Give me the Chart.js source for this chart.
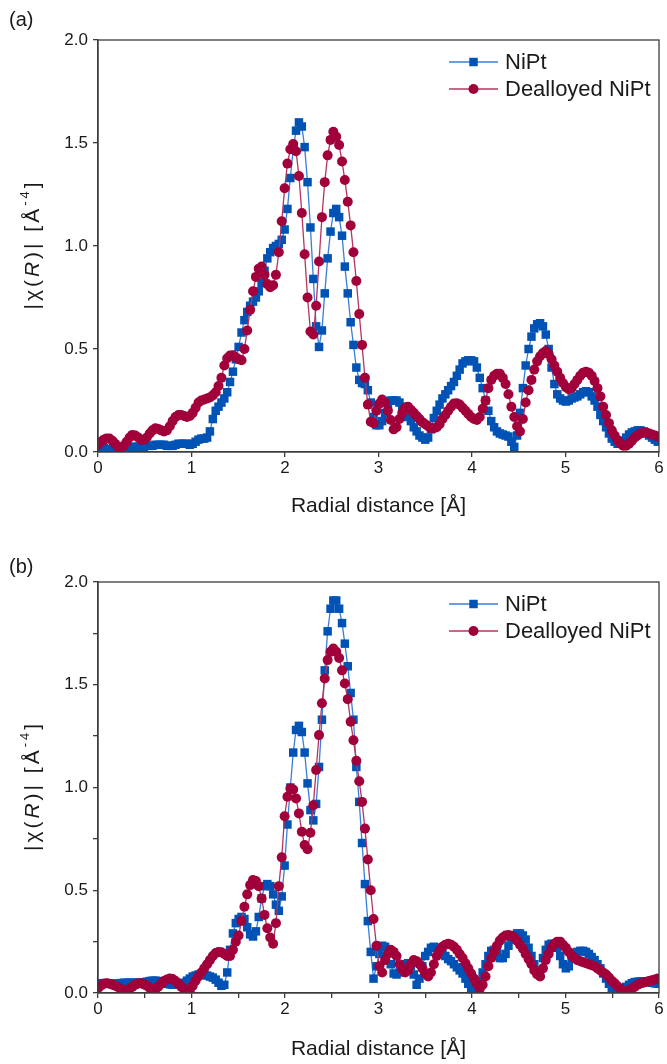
<!DOCTYPE html>
<html>
<head>
<meta charset="utf-8">
<script src="https://cdn.jsdelivr.net/npm/chart.js@4.4.1/dist/chart.umd.min.js"></script>
<style>
  body { margin: 0; background: #fff; }
  canvas { display: block; }
</style>
</head>
<body>
<canvas id="chartA" width="667" height="530"></canvas>
<canvas id="chartB" width="667" height="534"></canvas>
<script>
// R grid of the Fourier transform (Å)
const radialDistance = [
  0.000, 0.031, 0.061, 0.092, 0.123, 0.154, 0.184, 0.215, 0.246, 0.276,
  0.307, 0.338, 0.368, 0.399, 0.430, 0.461, 0.491, 0.522, 0.553, 0.583,
  0.614, 0.645, 0.675, 0.706, 0.737, 0.768, 0.798, 0.829, 0.860, 0.890,
  0.921, 0.952, 0.982, 1.013, 1.044, 1.075, 1.105, 1.136, 1.167, 1.197,
  1.228, 1.259, 1.289, 1.320, 1.351, 1.382, 1.412, 1.443, 1.474, 1.504,
  1.535, 1.566, 1.596, 1.627, 1.658, 1.689, 1.719, 1.750, 1.781, 1.811,
  1.842, 1.873, 1.903, 1.934, 1.965, 1.996, 2.026, 2.057, 2.088, 2.118,
  2.149, 2.180, 2.210, 2.241, 2.272, 2.303, 2.333, 2.364, 2.395, 2.425,
  2.456, 2.487, 2.517, 2.548, 2.579, 2.610, 2.640, 2.671, 2.702, 2.732,
  2.763, 2.794, 2.824, 2.855, 2.886, 2.917, 2.947, 2.978, 3.009, 3.039,
  3.070, 3.101, 3.131, 3.162, 3.193, 3.224, 3.254, 3.285, 3.316, 3.346,
  3.377, 3.408, 3.438, 3.469, 3.500, 3.531, 3.561, 3.592, 3.623, 3.653,
  3.684, 3.715, 3.745, 3.776, 3.807, 3.838, 3.868, 3.899, 3.930, 3.960,
  3.991, 4.022, 4.052, 4.083, 4.114, 4.145, 4.175, 4.206, 4.237, 4.267,
  4.298, 4.329, 4.359, 4.390, 4.421, 4.452, 4.482, 4.513, 4.544, 4.574,
  4.605, 4.636, 4.666, 4.697, 4.728, 4.759, 4.789, 4.820, 4.851, 4.881,
  4.912, 4.943, 4.973, 5.004, 5.035, 5.066, 5.096, 5.127, 5.158, 5.188,
  5.219, 5.250, 5.280, 5.311, 5.342, 5.373, 5.403, 5.434, 5.465, 5.495,
  5.526, 5.557, 5.587, 5.618, 5.649, 5.680, 5.710, 5.741, 5.772, 5.802,
  5.833, 5.864, 5.894, 5.925, 5.956, 5.987
];

// panel (a)
const niptA = [
  0.015, 0.02, 0.02, 0.015, 0.01, 0.01, 0.015, 0.02, 0.02, 0.02,
  0.02, 0.02, 0.025, 0.025, 0.025, 0.025, 0.025, 0.03, 0.03, 0.03,
  0.035, 0.035, 0.035, 0.035, 0.03, 0.03, 0.03, 0.035, 0.04, 0.04,
  0.04, 0.04, 0.035, 0.04, 0.05, 0.06, 0.065, 0.065, 0.07, 0.10,
  0.16, 0.20, 0.22, 0.24, 0.26, 0.29, 0.34, 0.39, 0.45, 0.51,
  0.58, 0.64, 0.68, 0.71, 0.73, 0.75, 0.78, 0.82, 0.88, 0.94,
  0.97, 0.99, 1.00, 1.01, 1.03, 1.08, 1.18, 1.33, 1.47, 1.56,
  1.60, 1.58, 1.48, 1.31, 1.09, 0.84, 0.61, 0.51, 0.59, 0.77,
  0.94, 1.07, 1.16, 1.18, 1.14, 1.05, 0.90, 0.77, 0.63, 0.52,
  0.41, 0.35, 0.335, 0.33, 0.30, 0.24, 0.17, 0.13, 0.13, 0.15,
  0.19, 0.23, 0.25, 0.25, 0.25, 0.24, 0.22, 0.20, 0.17, 0.15,
  0.12, 0.10, 0.08, 0.07, 0.06, 0.07, 0.11, 0.165, 0.20, 0.23,
  0.26, 0.28, 0.30, 0.32, 0.34, 0.37, 0.40, 0.43, 0.44, 0.445,
  0.445, 0.44, 0.41, 0.36, 0.31, 0.25, 0.20, 0.15, 0.12, 0.10,
  0.09, 0.085, 0.08, 0.075, 0.05, 0.025, 0.08, 0.19, 0.31, 0.42,
  0.50, 0.56, 0.60, 0.62, 0.625, 0.61, 0.57, 0.50, 0.41, 0.33,
  0.28, 0.26, 0.25, 0.245, 0.25, 0.26, 0.265, 0.27, 0.28, 0.29,
  0.295, 0.29, 0.27, 0.25, 0.22, 0.18, 0.15, 0.12, 0.09, 0.065,
  0.05, 0.04, 0.045, 0.055, 0.07, 0.085, 0.095, 0.10, 0.105, 0.105,
  0.10, 0.09, 0.08, 0.07, 0.06, 0.05
];
const dealloyedA = [
  0.035, 0.05, 0.06, 0.066, 0.065, 0.055, 0.04, 0.025, 0.022, 0.03,
  0.05, 0.07, 0.083, 0.08, 0.07, 0.06, 0.06, 0.07, 0.09, 0.105,
  0.115, 0.112, 0.105, 0.10, 0.105, 0.125, 0.15, 0.17, 0.18, 0.18,
  0.175, 0.17, 0.175, 0.19, 0.215, 0.24, 0.25, 0.255, 0.26, 0.265,
  0.275, 0.29, 0.32, 0.36, 0.42, 0.455, 0.468, 0.47, 0.46, 0.45,
  0.445, 0.50, 0.59, 0.69, 0.78, 0.85, 0.89, 0.90, 0.86, 0.815,
  0.80, 0.81, 0.86, 0.97, 1.12, 1.28, 1.40, 1.47, 1.495, 1.46,
  1.34, 1.16, 0.96, 0.75, 0.585, 0.57, 0.71, 0.925, 1.14, 1.31,
  1.44, 1.515, 1.555, 1.53, 1.49, 1.41, 1.32, 1.215, 1.10, 0.97,
  0.83, 0.67, 0.52, 0.36, 0.23, 0.147, 0.14, 0.20, 0.235, 0.255,
  0.24, 0.20, 0.155, 0.11, 0.12, 0.16, 0.19, 0.215, 0.22, 0.205,
  0.19, 0.175, 0.16, 0.145, 0.135, 0.125, 0.115, 0.115, 0.12, 0.135,
  0.16, 0.18, 0.20, 0.22, 0.235, 0.237, 0.23, 0.215, 0.20, 0.185,
  0.17, 0.16, 0.155, 0.17, 0.21, 0.25, 0.31, 0.35, 0.37, 0.38,
  0.38, 0.36, 0.33, 0.28, 0.22, 0.17, 0.125, 0.10, 0.16, 0.24,
  0.30, 0.35, 0.40, 0.44, 0.465, 0.48, 0.49, 0.475, 0.45, 0.42,
  0.39, 0.36, 0.335, 0.315, 0.305, 0.31, 0.33, 0.35, 0.37, 0.385,
  0.39, 0.385, 0.37, 0.345, 0.31, 0.27, 0.22, 0.18, 0.14, 0.105,
  0.08, 0.058, 0.04, 0.03, 0.03, 0.04, 0.055, 0.07, 0.08, 0.09,
  0.095, 0.095, 0.09, 0.085, 0.08, 0.075
];

// panel (b)
const niptB = [
  0.045, 0.047, 0.048, 0.048, 0.047, 0.045, 0.045, 0.046, 0.048, 0.05,
  0.05, 0.05, 0.05, 0.05, 0.05, 0.05, 0.052, 0.055, 0.058, 0.06,
  0.06, 0.058, 0.055, 0.05, 0.045, 0.042, 0.04, 0.04, 0.042, 0.045,
  0.05, 0.06, 0.07, 0.08, 0.085, 0.09, 0.09, 0.088, 0.085, 0.08,
  0.075, 0.065, 0.05, 0.035, 0.04, 0.10, 0.21, 0.29, 0.34, 0.36,
  0.37, 0.36, 0.32, 0.285, 0.275, 0.30, 0.37, 0.46, 0.52, 0.53,
  0.52, 0.48, 0.43, 0.40, 0.47, 0.62, 0.82, 1.00, 1.17, 1.28,
  1.30, 1.27, 1.17, 1.02, 0.89, 0.84, 0.92, 1.10, 1.33, 1.57,
  1.76, 1.87, 1.91, 1.91, 1.87, 1.80, 1.70, 1.59, 1.46, 1.33,
  1.10, 0.93, 0.73, 0.53, 0.35, 0.20, 0.07, 0.13, 0.19, 0.23,
  0.225, 0.20, 0.14, 0.095, 0.09, 0.10, 0.115, 0.14, 0.145, 0.13,
  0.09, 0.04, 0.07, 0.13, 0.18, 0.20, 0.22, 0.225, 0.22, 0.20,
  0.19, 0.18, 0.165, 0.155, 0.14, 0.125, 0.11, 0.095, 0.07, 0.045,
  0.025, 0.02, 0.03, 0.06, 0.10, 0.14, 0.18, 0.205, 0.21, 0.20,
  0.17, 0.17, 0.19, 0.23, 0.26, 0.28, 0.29, 0.29, 0.28, 0.26,
  0.22, 0.18, 0.14, 0.10, 0.09, 0.17, 0.21, 0.235, 0.24, 0.235,
  0.22, 0.18, 0.14, 0.12, 0.13, 0.17, 0.19, 0.20, 0.205, 0.205,
  0.20, 0.19, 0.175, 0.16, 0.14, 0.12, 0.095, 0.07, 0.045, 0.025,
  0.012, 0.005, 0.005, 0.015, 0.03, 0.04, 0.048, 0.053, 0.055, 0.056,
  0.056, 0.055, 0.052, 0.05, 0.047, 0.045
];
const dealloyedB = [
  0.023, 0.035, 0.045, 0.047, 0.045, 0.04, 0.035, 0.028, 0.02, 0.013,
  0.012, 0.02, 0.03, 0.04, 0.046, 0.047, 0.042, 0.035, 0.025, 0.015,
  0.018, 0.03, 0.045, 0.058, 0.066, 0.07, 0.068, 0.058, 0.045, 0.03,
  0.018, 0.008, 0.01, 0.035, 0.06, 0.08, 0.10, 0.12, 0.14, 0.16,
  0.18, 0.195, 0.20, 0.198, 0.19, 0.18, 0.18, 0.21, 0.25, 0.28,
  0.35, 0.42, 0.48, 0.525, 0.55, 0.545, 0.52, 0.46, 0.38, 0.315,
  0.27, 0.24, 0.34, 0.52, 0.66, 0.86, 0.955, 0.995, 0.99, 0.947,
  0.874, 0.785, 0.72, 0.70, 0.78, 0.914, 1.085, 1.255, 1.41, 1.53,
  1.62, 1.66, 1.676, 1.66, 1.63, 1.57, 1.506, 1.43, 1.32, 1.23,
  1.13, 1.03, 0.93, 0.80, 0.65, 0.50, 0.36, 0.23, 0.13, 0.10,
  0.16, 0.19, 0.21, 0.20, 0.18, 0.14, 0.115, 0.10, 0.11, 0.14,
  0.16, 0.155, 0.14, 0.12, 0.095, 0.08, 0.10, 0.14, 0.18, 0.205,
  0.225, 0.235, 0.24, 0.235, 0.225, 0.21, 0.19, 0.17, 0.145, 0.12,
  0.095, 0.07, 0.045, 0.02, 0.04, 0.08, 0.13, 0.17, 0.20, 0.23,
  0.255, 0.27, 0.28, 0.282, 0.278, 0.27, 0.255, 0.235, 0.215, 0.19,
  0.165, 0.14, 0.11, 0.09, 0.08, 0.12, 0.16, 0.19, 0.22, 0.24,
  0.25, 0.25, 0.235, 0.22, 0.20, 0.18, 0.17, 0.16, 0.155, 0.15,
  0.145, 0.14, 0.135, 0.13, 0.12, 0.11, 0.10, 0.09, 0.075, 0.06,
  0.047, 0.033, 0.02, 0.01, 0.006, 0.012, 0.02, 0.03, 0.04, 0.046,
  0.05, 0.055, 0.058, 0.062, 0.066, 0.07
];

const seriesNames = ['NiPt', 'Dealloyed NiPt'];

const FONT = "'Liberation Sans', Arial, sans-serif";
const INK = '#1a1a1a';
const AXIS = '#3c3c3c';

function toPoints(values) {
  return radialDistance.map((r, i) => ({ x: r, y: values[i] }));
}

// box around the plot area (top and right edges come from here)
const frame = {
  id: 'frame',
  afterDatasetsDraw(chart) {
    const { ctx, chartArea: a } = chart;
    ctx.save();
    ctx.strokeStyle = AXIS;
    ctx.lineWidth = 1.3;
    ctx.strokeRect(a.left, a.top, a.right - a.left, a.bottom - a.top);
    ctx.restore();
  }
};

// Origin-style legend: short line with the marker in the middle
const legendBox = {
  id: 'legendBox',
  afterDatasetsDraw(chart) {
    const { ctx, chartArea: a } = chart;
    chart.data.datasets.forEach((ds, i) => {
      const y = a.top + 22 + i * 27;
      const x0 = a.right - 210, x1 = a.right - 161, xm = (x0 + x1) / 2;
      ctx.save();
      ctx.strokeStyle = ds.borderColor;
      ctx.lineWidth = ds.borderWidth;
      ctx.beginPath();
      ctx.moveTo(x0, y);
      ctx.lineTo(x1, y);
      ctx.stroke();
      ctx.fillStyle = ds.backgroundColor;
      ctx.beginPath();
      if (ds.pointStyle === 'rect') {
        const s = ds.pointRadius * Math.SQRT1_2;
        ctx.rect(xm - s, y - s, 2 * s, 2 * s);
      } else {
        ctx.arc(xm, y, ds.pointRadius, 0, Math.PI * 2);
      }
      ctx.fill();
      ctx.fillStyle = INK;
      ctx.font = `22px ${FONT}`;
      ctx.textBaseline = 'middle';
      ctx.fillText(ds.label, a.right - 154, y + 1);
      ctx.restore();
    });
  }
};

// |chi(R)| [Å^-4] with italic R and a raised exponent, set loosely
const yTitle = {
  id: 'yTitle',
  afterDraw(chart) {
    const { ctx, chartArea: a } = chart;
    const size = 21;
    const gap = 3;
    const plain = `${size}px ${FONT}`;
    const parts = [
      { text: '|\u03C7(', font: plain },
      { text: 'R', font: `italic ${size}px ${FONT}` },
      { text: ')| [\u00C5', font: plain },
      { text: '-4', font: `${Math.round(size * 0.62)}px ${FONT}`, rise: size * 0.36 },
      { text: ']', font: plain }
    ];
    const glyphs = [];
    parts.forEach(p => {
      ctx.font = p.font;
      for (const ch of p.text) {
        glyphs.push({ ch, font: p.font, rise: p.rise || 0, w: ctx.measureText(ch).width });
      }
    });
    const total = glyphs.reduce((s, g) => s + g.w, 0) + gap * (glyphs.length - 1);
    ctx.save();
    ctx.translate(33, (a.top + a.bottom) / 2);
    ctx.rotate(-Math.PI / 2);
    ctx.fillStyle = INK;
    ctx.textBaseline = 'middle';
    let x = -total / 2;
    glyphs.forEach(g => {
      ctx.font = g.font;
      ctx.fillText(g.ch, x, -g.rise);
      x += g.w + gap;
    });
    ctx.restore();
  }
};

const panelLabel = {
  id: 'panelLabel',
  afterDraw(chart, args, opts) {
    const { ctx } = chart;
    ctx.save();
    ctx.fillStyle = INK;
    ctx.font = `20px ${FONT}`;
    ctx.textBaseline = 'middle';
    ctx.fillText(opts.text, 9, opts.y);
    ctx.restore();
  }
};

function createPanel(canvasId, cfg) {
  const ctx = document.getElementById(canvasId).getContext('2d');
  const halfStep = v => Math.abs(v * 2 - Math.round(v * 2)) < 1e-6;
  new Chart(ctx, {
    type: 'line',
    data: {
      datasets: [
        {
          label: seriesNames[0],
          data: toPoints(cfg.nipt),
          borderColor: '#3a7ed8',
          backgroundColor: '#0053b5',
          borderWidth: 1.3,
          pointStyle: 'rect',
          pointRadius: 6,
          pointBorderWidth: 0,
          order: 1,
          clip: 0
        },
        {
          label: seriesNames[1],
          data: toPoints(cfg.dealloyed),
          borderColor: '#b73462',
          backgroundColor: '#a1003b',
          borderWidth: 1.3,
          pointStyle: 'circle',
          pointRadius: 5,
          pointBorderWidth: 0,
          order: 0,
          clip: 0
        }
      ]
    },
    options: {
      responsive: false,
      animation: false,
      events: [],
      layout: { padding: { top: cfg.top, right: 8, left: 0, bottom: 0 } },
      plugins: {
        legend: { display: false },
        tooltip: { enabled: false },
        panelLabel: { text: cfg.label, y: cfg.labelY }
      },
      scales: {
        x: {
          type: 'linear',
          min: 0,
          max: 6,
          afterFit: s => { s.height = cfg.xHeight; },
          ticks: {
            stepSize: cfg.minor ? 0.5 : 1,
            autoSkip: false,
            maxRotation: 0,
            padding: 1,
            color: INK,
            font: { family: FONT, size: 17 },
            callback: v => Number.isInteger(v) ? String(v) : ''
          },
          grid: { drawOnChartArea: false, color: AXIS, lineWidth: 1.3, tickLength: 5 },
          border: { color: AXIS, width: 1.3 },
          title: {
            display: true,
            text: 'Radial distance [\u00C5]',
            color: INK,
            font: { family: FONT, size: 21 },
            padding: { top: 0, bottom: cfg.titlePad }
          }
        },
        y: {
          min: 0,
          max: 2,
          afterFit: s => { s.width = 98; },
          ticks: {
            stepSize: cfg.minor ? 0.25 : 0.5,
            autoSkip: false,
            padding: 5,
            color: INK,
            font: { family: FONT, size: 17 },
            callback: v => halfStep(v) ? v.toFixed(1) : ''
          },
          grid: { drawOnChartArea: false, color: AXIS, lineWidth: 1.3, tickLength: 5 },
          border: { color: AXIS, width: 1.3 }
        }
      }
    },
    plugins: [frame, legendBox, yTitle, panelLabel]
  });
}

createPanel('chartA', {
  nipt: niptA, dealloyed: dealloyedA, label: '(a)', labelY: 20,
  top: 40, xHeight: 78, titlePad: 11, minor: false
});
createPanel('chartB', {
  nipt: niptB, dealloyed: dealloyedB, label: '(b)', labelY: 37,
  top: 52, xHeight: 71, titlePad: 2, minor: true
});
</script>
</body>
</html>
